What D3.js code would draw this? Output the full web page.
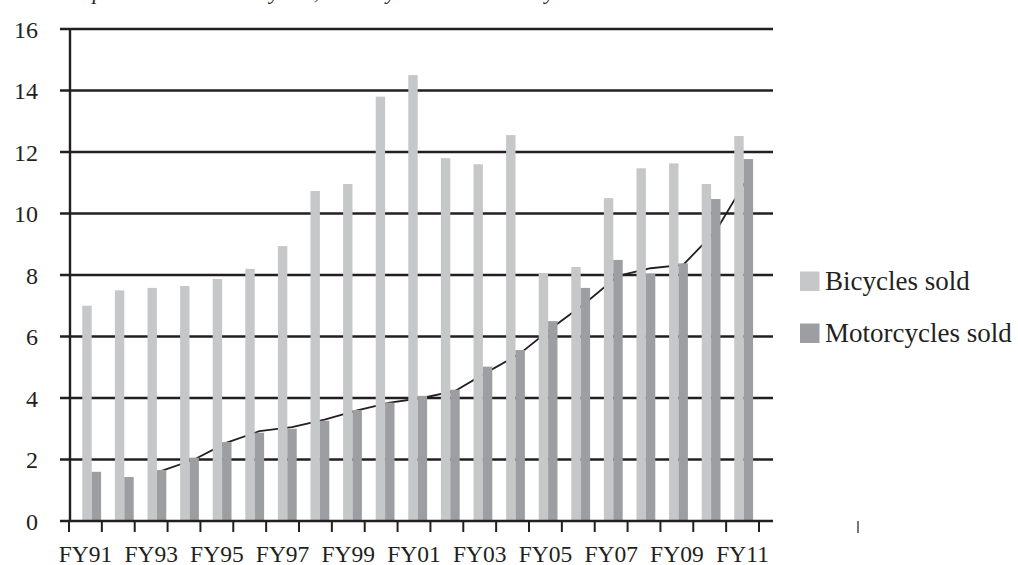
<!DOCTYPE html>
<html>
<head>
<meta charset="utf-8">
<script src="https://cdn.jsdelivr.net/npm/d3@7/dist/d3.min.js"></script>
<style>
  html, body { margin: 0; padding: 0; background: #ffffff; }
  svg { display: block; }
  svg text { font-family: "Liberation Serif", Tinos, "Times New Roman", Times, "DejaVu Serif", serif; fill: #231f20; }
</style>
</head>
<body>
<svg id="chart" width="1018" height="565"></svg>
<script>
// Fiscal years on the category axis
const categories = ["FY91","FY92","FY93","FY94","FY95","FY96","FY97","FY98","FY99","FY00",
                    "FY01","FY02","FY03","FY04","FY05","FY06","FY07","FY08","FY09","FY10","FY11"];

// Units sold (millions)
const bicyclesSold = [7.0, 7.5, 7.58, 7.64, 7.87, 8.2, 8.94, 10.73, 10.96, 13.8,
                      14.5, 11.8, 11.6, 12.55, 8.05, 8.26, 10.5, 11.47, 11.63, 10.96, 12.52];
const motorcyclesSold = [1.6, 1.43, 1.66, 2.06, 2.57, 2.87, 3.0, 3.26, 3.61, 3.85,
                         4.07, 4.27, 5.02, 5.56, 6.5, 7.58, 8.49, 8.04, 8.38, 10.47, 11.77];

// Trend line drawn over the motorcycle series, FY93 onward
const trendYears = categories.slice(2);
const trendValues = [1.63, 2.0, 2.55, 2.92, 3.05, 3.3, 3.6, 3.85, 4.0, 4.23,
                     4.85, 5.45, 6.3, 7.09, 7.97, 8.22, 8.33, 9.43, 11.2];

const yTicks = [0, 2, 4, 6, 8, 10, 12, 14, 16];
const labelYears = categories.filter((d, i) => i % 2 === 0);
const seriesNames = ["Bicycles sold", "Motorcycles sold"];
const seriesColors = ["#c6c7c9", "#9d9ea2"];
const titleText = "Comparison between bicycles, motorcycles sold annually";

const FONT = "'Liberation Serif', Tinos, 'Times New Roman', Times, 'DejaVu Serif', serif";
const svg = d3.select("#chart");
const ink = "#231f20";

// Scales
const y = d3.scaleLinear().domain([0, 16]).range([521, 29]);
const x = d3.scaleBand().domain(categories).range([69, 759]).padding(0);
const xBars = d3.scaleBand().domain(categories).range([82.3, 753.1])
  .paddingInner(0.423).paddingOuter(0);
const barW = xBars.bandwidth() / 2;

// Title (sits above the frame, only its descenders reach the page)
svg.append("text")
  .attr("x", 51).attr("y", -1.5)
  .attr("font-family", FONT)
  .style("font-style", "italic")
  .style("font-size", "22px")
  .text(titleText);

// Horizontal gridlines (zero line drawn later, over the bars)
svg.append("g").selectAll("line")
  .data(yTicks.filter(d => d !== 0))
  .join("line")
  .attr("x1", 60).attr("x2", 773)
  .attr("y1", d => y(d)).attr("y2", d => y(d))
  .attr("stroke", ink).attr("stroke-width", 2.6);

// Trend line (behind the bars)
const trend = d3.line()
  .x((d, i) => xBars(trendYears[i]) + barW * 1.5)
  .y(d => y(d));
svg.append("path")
  .datum(trendValues)
  .attr("d", trend)
  .attr("fill", "none")
  .attr("stroke", ink)
  .attr("stroke-width", 1.8)
  .attr("stroke-linejoin", "round");

// Bars
const bars = svg.append("g");
bars.selectAll("rect.bike")
  .data(bicyclesSold)
  .join("rect")
  .attr("class", "bike")
  .attr("x", (d, i) => xBars(categories[i]))
  .attr("width", barW)
  .attr("y", d => y(d))
  .attr("height", d => y(0) - y(d))
  .attr("fill", seriesColors[0]);
bars.selectAll("rect.moto")
  .data(motorcyclesSold)
  .join("rect")
  .attr("class", "moto")
  .attr("x", (d, i) => xBars(categories[i]) + barW)
  .attr("width", barW)
  .attr("y", d => y(d))
  .attr("height", d => y(0) - y(d))
  .attr("fill", seriesColors[1]);

// Zero line and vertical axis
svg.append("line")
  .attr("x1", 60).attr("x2", 773)
  .attr("y1", y(0)).attr("y2", y(0))
  .attr("stroke", ink).attr("stroke-width", 2.6);
svg.append("line")
  .attr("x1", 70).attr("x2", 70)
  .attr("y1", y(16)).attr("y2", y(0))
  .attr("stroke", ink).attr("stroke-width", 2.4);

// Category tick marks at band boundaries
const boundaries = d3.range(categories.length + 1).map(k => x.range()[0] + k * x.step());
svg.append("g").selectAll("line")
  .data(boundaries)
  .join("line")
  .attr("x1", d => d).attr("x2", d => d)
  .attr("y1", y(0)).attr("y2", y(0) + 11)
  .attr("stroke", ink).attr("stroke-width", 2);

// Stray tick to the right of the plot
svg.append("line")
  .attr("x1", 858).attr("x2", 858)
  .attr("y1", y(0)).attr("y2", y(0) + 12)
  .attr("stroke", "#555555").attr("stroke-width", 1.6);

// Y axis labels
const yAxis = d3.axisLeft(y).tickValues(yTicks).tickSize(0).tickPadding(0);
const yG = svg.append("g").attr("transform", "translate(38,0)").call(yAxis)
  .attr("font-family", FONT).attr("font-size", 24);
yG.select(".domain").remove();
yG.selectAll("text")
  .attr("x", 0)
  .attr("dy", "0.35em")
  .attr("fill", ink);

// X axis labels (every other year)
const xAxis = d3.axisBottom(x).tickValues(labelYears).tickSize(0).tickPadding(0);
const xG = svg.append("g").attr("transform", "translate(0,562)").call(xAxis)
  .attr("font-family", FONT).attr("font-size", 23.5);
xG.select(".domain").remove();
xG.selectAll("text")
  .attr("y", 0)
  .attr("dy", 0)
  .attr("fill", ink);

// Legend
const legend = svg.append("g").attr("font-family", FONT).attr("font-size", 27);
const legendRows = [290, 342];
legend.selectAll("rect")
  .data(seriesNames)
  .join("rect")
  .attr("x", 800)
  .attr("y", (d, i) => legendRows[i] - 18.5)
  .attr("width", 19.5).attr("height", 19.5)
  .attr("fill", (d, i) => seriesColors[i]);
legend.selectAll("text")
  .data(seriesNames)
  .join("text")
  .attr("x", 825)
  .attr("y", (d, i) => legendRows[i])
  .text(d => d);
</script>
</body>
</html>
